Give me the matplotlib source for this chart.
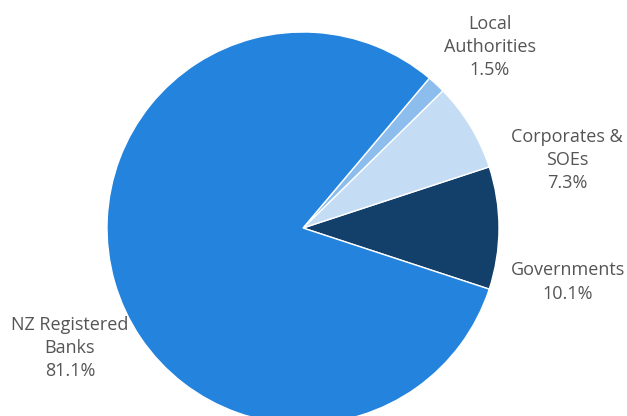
import matplotlib.pyplot as plt

# share of holdings by holder type
labels = ['Governments', 'Corporates &\nSOEs', 'Local\nAuthorities', 'NZ Registered\nBanks']
shares = [10.1, 7.3, 1.5, 81.1]
colors = ['#133f6b', '#c4ddf4', '#8dbdec', '#2383dd']

# label centres (data units, pie radius = 1)
label_pos = [(1.352, -0.276), (1.347, 0.347), (0.954, 0.923), (-1.189, -0.612)]

plt.rcParams['font.family'] = ['Open Sans', 'DejaVu Sans']

fig = plt.figure(figsize=(6.27, 4.16), dpi=100)
ax = fig.add_axes([0, 0, 1, 1])

start = -shares[0] / 100 * 360 / 2
ax.pie(shares, colors=colors, startangle=start, counterclock=True, radius=1,
       wedgeprops=dict(edgecolor='white', linewidth=1))

for lab, val, (x, y) in zip(labels, shares, label_pos):
    ax.text(x, y, f'{lab}\n{val}%', ha='center', va='center', fontsize=13,
            color='#555555', linespacing=1.38)

ax.set_xlim(-303 / 196, (627 - 303) / 196)
ax.set_ylim(-(416 - 228) / 196, 228 / 196)
ax.set_aspect('auto')
ax.axis('off')

fig.savefig('out.png', dpi=100)
